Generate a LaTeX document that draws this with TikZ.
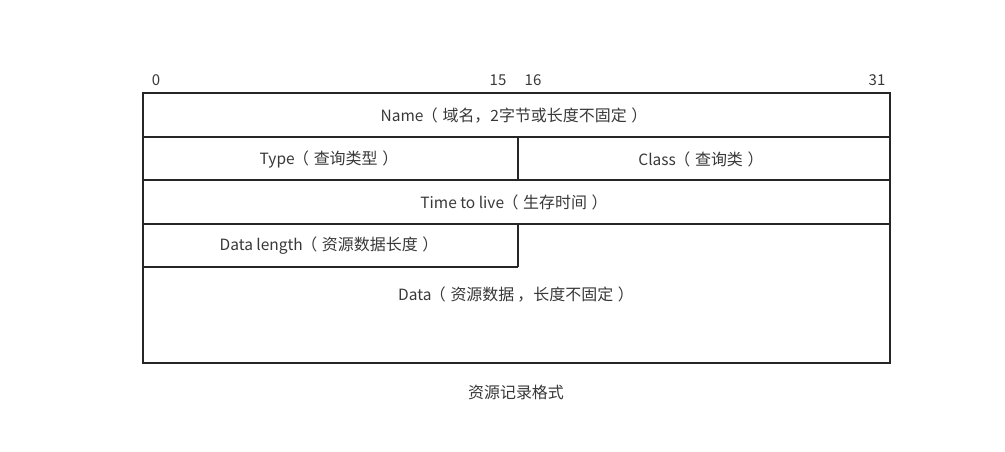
\documentclass[tikz,border=0pt]{standalone}
\usepackage{fontspec}
\setmainfont{Noto Sans CJK SC}
\newfontfamily\cjkf{Noto Sans CJK SC}[Scale=1.03]
\newcommand{\zh}[1]{{\cjkf #1}}
\newcommand{\lpar}{\hspace{-0.1em}{\cjkf （}\hspace{0.3em}}
\newcommand{\rpar}{\hspace{0.3em}{\cjkf ）}}
\begin{document}
\begin{tikzpicture}[x=1pt,y=-1pt,
  frame/.style={draw=black!85,line width=1.8pt},
  lbl/.style={font=\fontsize{15.5}{17}\selectfont,text=black!78,inner sep=0pt},
  bit/.style={font=\fontsize{15}{16}\selectfont,text=black!78,inner sep=0pt}]
\useasboundingbox (0,0) rectangle (1005,452);
% frame cells
\draw[frame] (143,93) rectangle (890,363);
\draw[frame] (143,137) -- (890,137);
\draw[frame] (143,180) -- (890,180);
\draw[frame] (143,224) -- (890,224);
\draw[frame] (143,267) -- (518,267);
\draw[frame] (518,137) -- (518,180);
\draw[frame] (518,224) -- (518,267);
% bit numbers
\node[bit] (b0) at (156,80) {0};
\node[bit] (b15) at (498,80) {15};
\node[bit] (b16) at (533,80) {16};
\node[bit] (b31) at (877,80) {31};
% field labels
\node[lbl] (name) at (514,116) {Name\lpar\zh{域名，}2\zh{字节或长度不固定}\rpar};
\node[lbl] (type) at (329,159) {Type\lpar\zh{查询类型}\rpar};
\node[lbl] (class) at (701,159) {Class\lpar\zh{查询类}\rpar};
\node[lbl] (ttl) at (514,202) {Time to live\lpar\zh{生存时间}\rpar};
\node[lbl] (dlen) at (329,246) {Data length\lpar\zh{资源数据长度}\rpar};
\node[lbl] (data) at (516,295) {Data\lpar\zh{资源数据}\hspace{0.2em}\zh{，长度不固定}\rpar};
\node[lbl] (cap) at (516,392) {\zh{资源记录格式}};
\end{tikzpicture}
\end{document}
